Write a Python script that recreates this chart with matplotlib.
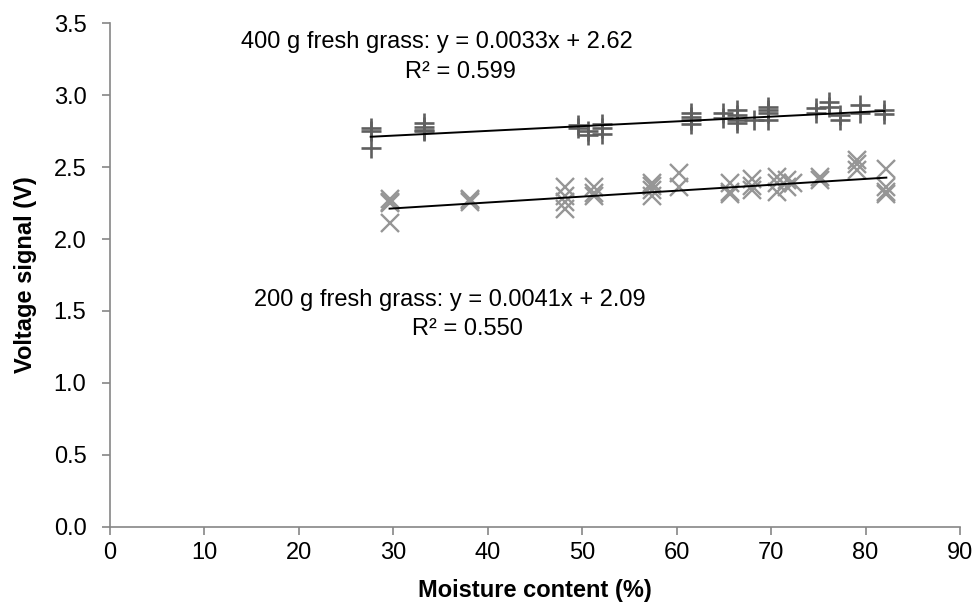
import matplotlib
matplotlib.use("Agg")
import matplotlib.pyplot as plt
import numpy as np

plt.rcParams['font.family'] = ['Liberation Sans', 'DejaVu Sans']

# 400 g fresh grass (plus markers)
x400 = [27.6, 27.6, 27.6, 33.2, 33.2, 33.2, 33.2, 49.6, 49.6, 50.6, 50.6,
        52.1, 52.1, 52.1, 61.5, 61.5, 61.5, 61.5, 64.9, 64.9,
        66.4, 66.4, 66.4, 66.4, 68.2, 69.7, 69.7, 69.7, 69.7,
        74.8, 74.8, 76.1, 76.1, 77.3, 77.3, 79.4, 79.4, 82.0, 82.0]
y400 = [2.75, 2.77, 2.63, 2.81, 2.78, 2.75, 2.76, 2.79, 2.77, 2.72, 2.75,
        2.80, 2.77, 2.73, 2.875, 2.85, 2.83, 2.80, 2.875, 2.84,
        2.90, 2.86, 2.83, 2.81, 2.83, 2.92, 2.90, 2.875, 2.83,
        2.91, 2.875, 2.955, 2.92, 2.86, 2.83, 2.93, 2.875, 2.90, 2.87]

# 200 g fresh grass (cross markers)
x200 = [29.6, 29.6, 29.6, 29.6, 38.1, 38.1, 38.1, 48.2, 48.2, 48.2, 48.2,
        51.2, 51.2, 51.2, 57.4, 57.4, 57.4, 57.4, 60.2, 60.2,
        65.7, 65.7, 65.7, 68.0, 68.0, 68.0, 70.6, 70.6, 70.6,
        71.7, 71.7, 72.3, 75.2, 75.2, 79.1, 79.1, 79.1,
        82.2, 82.2, 82.2, 82.2]
y200 = [2.26, 2.28, 2.25, 2.11, 2.27, 2.28, 2.26, 2.36, 2.30, 2.26, 2.21,
        2.36, 2.32, 2.30, 2.39, 2.37, 2.34, 2.30, 2.46, 2.36,
        2.39, 2.33, 2.31, 2.42, 2.37, 2.34, 2.43, 2.39, 2.33,
        2.41, 2.36, 2.39, 2.43, 2.41, 2.55, 2.52, 2.48,
        2.49, 2.36, 2.33, 2.31]

# trend line coefficients (as shown)
slope400, icpt400, r2_400 = 0.0033, 2.62, 0.599
slope200, icpt200, r2_200 = 0.0041, 2.09, 0.550

fig = plt.figure(figsize=(9.76, 6.10), dpi=100)
ax = fig.add_axes([0.1127, 0.1366, 0.8709, 0.8252])

ax.plot(x400, y400, linestyle='none', marker='+', markersize=14,
        markeredgewidth=1.9, color='#5f5f5f', zorder=3)
ax.plot(x200, y200, linestyle='none', marker='x', markersize=13,
        markeredgewidth=1.7, color='#969696', zorder=3)

xs = np.array([min(x400), max(x400)])
ax.plot(xs, slope400 * xs + icpt400, color='black', linewidth=1.4, zorder=4)
xs = np.array([min(x200), max(x200)])
ax.plot(xs, slope200 * xs + icpt200, color='black', linewidth=1.4, zorder=4)

fs = 17
ax.text(34.6, 3.37, f"400 g fresh grass: y = {slope400}x + {icpt400}",
        fontsize=fs, ha='center', va='center')
ax.text(37.1, 3.16, f"R² = {r2_400}", fontsize=fs, ha='center', va='center')
ax.text(36.0, 1.575, f"200 g fresh grass: y = {slope200}x + {icpt200}",
        fontsize=fs, ha='center', va='center')
ax.text(37.8, 1.375, f"R² = {r2_200:.3f}", fontsize=fs, ha='center', va='center')

ax.set_xlim(0, 90)
ax.set_ylim(0, 3.5)
ax.set_xticks(np.arange(0, 91, 10))
ax.set_yticks(np.arange(0, 3.51, 0.5))
ax.set_yticklabels([f"{v:.1f}" for v in np.arange(0, 3.51, 0.5)])
ax.tick_params(labelsize=fs, direction='out', length=6, width=1.2,
               color='#868686')
ax.tick_params(axis='y', pad=11)
ax.tick_params(axis='x', pad=5)
for s in ['top', 'right']:
    ax.spines[s].set_visible(False)
for s in ['left', 'bottom']:
    ax.spines[s].set_color('#868686')
    ax.spines[s].set_linewidth(1.2)

ax.set_xlabel("Moisture content (%)", fontsize=fs, fontweight='bold', labelpad=11)
ax.set_ylabel("Voltage signal (V)", fontsize=fs, fontweight='bold', labelpad=12)

fig.savefig("out.png", dpi=100)
